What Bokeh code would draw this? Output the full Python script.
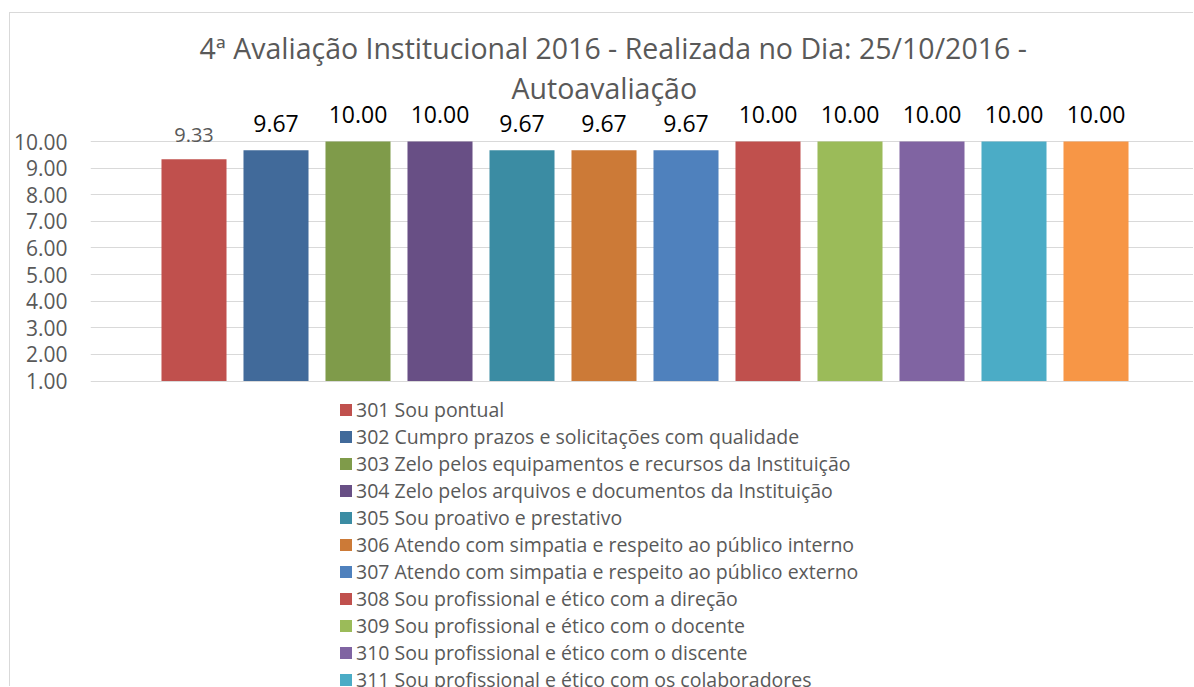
from bokeh.plotting import figure
from bokeh.models import (ColumnDataSource, Range1d, FixedTicker, PrintfTickFormatter,
                          LabelSet, Legend, LegendItem, Title)
from bokeh.core.properties import value
from bokeh.embed import file_html
from bokeh.resources import INLINE

# ---------------- data ----------------
codes = ["301", "302", "303", "304", "305", "306", "307", "308", "309", "310", "311", "312"]
items = [
    "Sou pontual",
    "Cumpro prazos e solicitações com qualidade",
    "Zelo pelos equipamentos e recursos da Instituição",
    "Zelo pelos arquivos e documentos da Instituição",
    "Sou proativo e prestativo",
    "Atendo com simpatia e respeito ao público interno",
    "Atendo com simpatia e respeito ao público externo",
    "Sou profissional e ético com a direção",
    "Sou profissional e ético com o docente",
    "Sou profissional e ético com o discente",
    "Sou profissional e ético com os colaboradores",
    "Sou profissional e ético com a comunidade",
]
scores = [9.33, 9.67, 10.00, 10.00, 9.67, 9.67, 9.67, 10.00, 10.00, 10.00, 10.00, 10.00]
colors = ["#C0504D", "#416A9A", "#7F9B4A", "#684F85", "#3B8CA3", "#CC7A37",
          "#4F81BD", "#C0504D", "#9BBB59", "#8064A2", "#4BACC6", "#F79646"]
title_lines = ["4ª Avaliação Institucional 2016 - Realizada no Dia: 25/10/2016 -",
               "Autoavaliação"]
y_ticks = [1, 2, 3, 4, 5, 6, 7, 8, 9, 10]

FONT = "Open Sans"
GRAY = "#595959"
BORDER = "#D9D9D9"

positions = list(range(len(scores)))
source = ColumnDataSource(dict(
    x=positions,
    top=scores,
    color=colors,
    label=["%.2f" % v for v in scores],
    lcolor=[GRAY if i == 0 else "#000000" for i in positions],
    lsize=["20px" if i == 0 else "23px" for i in positions],
    loff=[24 if i == 0 else 27 for i in positions],
))

# canvas sits 10px right / 13px down of the page corner (chart border outside it)
p = figure(width=1184, height=674,
           x_range=Range1d(-1.2622, 12.2012),
           y_range=Range1d(-10.518, 11.391),
           x_axis_location=None,
           output_backend="svg", toolbar_location=None,
           min_border_left=80, min_border_right=0,
           min_border_top=91, min_border_bottom=0)
p.margin = (12, 0, 0, 9)
p.styles = {"border-top": "1px solid " + BORDER, "border-left": "1px solid " + BORDER}
p.title.visible = False
p.outline_line_color = None
p.background_fill_color = "white"
p.border_fill_color = "white"

r = p.vbar(x="x", top="top", bottom=y_ticks[0], width=0.793, color="color",
           line_color=None, source=source)

p.xgrid.visible = False
p.ygrid.grid_line_color = BORDER
p.ygrid.grid_line_width = 1
p.ygrid.ticker = FixedTicker(ticks=y_ticks)

ya = p.yaxis[0]
ya.ticker = FixedTicker(ticks=y_ticks)
ya.formatter = PrintfTickFormatter(format="%.2f")
ya.axis_line_color = None
ya.major_tick_line_color = None
ya.minor_tick_line_color = None
ya.major_tick_in = 0
ya.major_tick_out = 0
ya.major_label_standoff = 23
ya.major_label_text_font = FONT
ya.major_label_text_font_size = "21px"
ya.major_label_text_color = GRAY

labels = LabelSet(x="x", y="top", text="label", source=source,
                  y_offset="loff", text_align="center", text_baseline="middle",
                  text_font=value(FONT), text_font_size="lsize", text_color="lcolor")
p.add_layout(labels)

t2 = Title(text=title_lines[1], align="left", offset=421,
           text_font=FONT, text_font_size="28.5px", text_font_style="normal",
           text_color=GRAY, standoff=-5)
t1 = Title(text=title_lines[0], align="left", offset=109,
           text_font=FONT, text_font_size="28.5px", text_font_style="normal",
           text_color=GRAY, standoff=5)
p.add_layout(t2, "above")
p.add_layout(t1, "above")

legend = Legend(
    items=[LegendItem(label=c + " " + t, renderers=[r], index=i)
           for i, (c, t) in enumerate(zip(codes, items))],
    location=(248, -33),
    orientation="vertical",
    padding=0, margin=0, spacing=0,
    border_line_color=None, background_fill_alpha=0,
    glyph_width=15, glyph_height=15, label_height=27, label_standoff=3,
    label_text_font=FONT, label_text_font_size="19.5px", label_text_color=GRAY,
)
p.add_layout(legend)

open("out.html", "w").write(file_html(p, INLINE))
